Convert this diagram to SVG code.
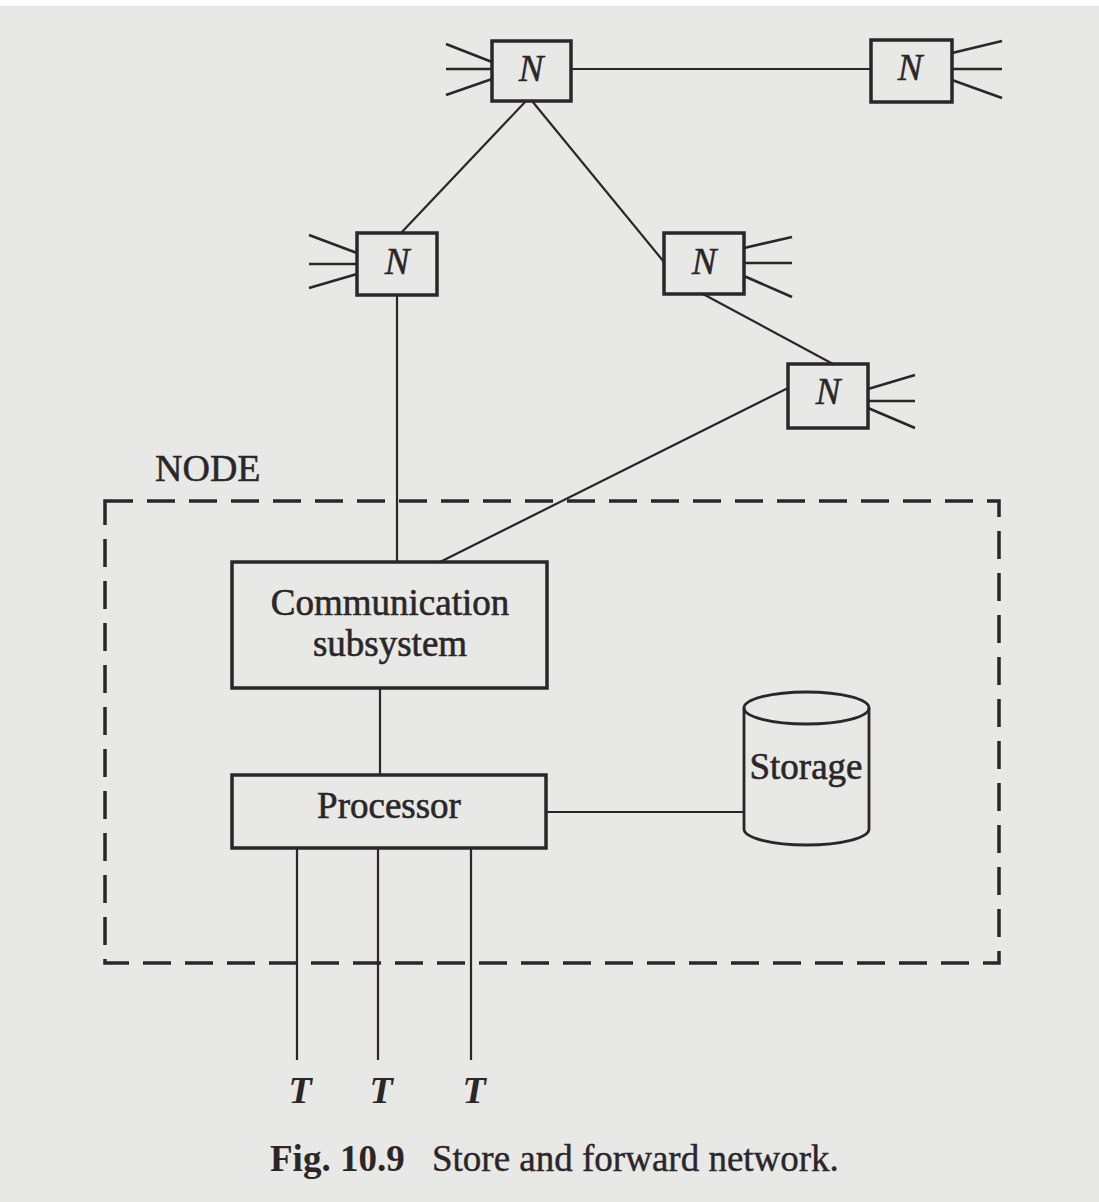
<svg xmlns="http://www.w3.org/2000/svg" width="1099" height="1202" viewBox="0 0 1099 1202">
<style>
.bg{fill:#e8e8e6}
.box{fill:none;stroke:#2b2628;stroke-width:3.5}
.spk{stroke:#2b2628;stroke-width:2.6;fill:none}
.ln{stroke:#2b2628;stroke-width:2.2;fill:none}
.dash{fill:none;stroke:#2b2628;stroke-width:3.5;stroke-dasharray:28 14}
.n{font-family:"Liberation Serif",serif;font-style:italic;font-size:37px;fill:#2b2628;text-anchor:middle;stroke:#2b2628;stroke-width:0.5}
.t{font-family:"Liberation Serif",serif;font-style:italic;font-weight:bold;font-size:38px;fill:#2b2628;text-anchor:middle}
.lbl{font-family:"Liberation Serif",serif;font-size:37px;fill:#2b2628;text-anchor:middle;stroke:#2b2628;stroke-width:0.6}
.cap{font-family:"Liberation Serif",serif;font-size:37px;fill:#2b2628}
</style>
<rect class="bg" x="0" y="0" width="1099" height="1202"/>
<rect x="0" y="0" width="1099" height="6" fill="#ffffff"/>

<g id="connectors">
<line class="ln" x1="571" y1="69" x2="871" y2="69"/>
<line class="ln" x1="526" y1="101" x2="401" y2="233"/>
<line class="ln" x1="532" y1="101" x2="664" y2="262"/>
<line class="ln" x1="397" y1="295" x2="397" y2="562"/>
<line class="ln" x1="703" y1="294" x2="833" y2="364"/>
<line class="ln" x1="788" y1="388" x2="440" y2="562"/>
<line class="ln" x1="380" y1="688" x2="380" y2="775"/>
<line class="ln" x1="546" y1="812" x2="744" y2="812"/>
<line class="ln" x1="297" y1="848" x2="297" y2="1060"/>
<line class="ln" x1="378" y1="848" x2="378" y2="1060"/>
<line class="ln" x1="471" y1="848" x2="471" y2="1060"/>
</g>

<g id="node-boundary">
<rect class="dash" x="105" y="501" width="894" height="462"/>
<text class="cap" x="155" y="481" style="font-size:38px;stroke:#2b2628;stroke-width:0.5">NODE</text>
</g>

<g id="n1">
<rect class="box" x="492" y="41" width="79" height="60"/>
<line class="spk" x1="446" y1="44" x2="492" y2="62"/>
<line class="spk" x1="446" y1="69" x2="492" y2="69"/>
<line class="spk" x1="446" y1="95" x2="492" y2="79"/>
<text class="n" x="531" y="81">N</text>
</g>

<g id="n2">
<rect class="box" x="871" y="40" width="81" height="62"/>
<line class="spk" x1="952" y1="53" x2="1002" y2="41"/>
<line class="spk" x1="952" y1="69" x2="1002" y2="69"/>
<line class="spk" x1="952" y1="80" x2="1002" y2="98"/>
<text class="n" x="910" y="80">N</text>
</g>

<g id="n3">
<rect class="box" x="357" y="233" width="80" height="62"/>
<line class="spk" x1="309" y1="235" x2="357" y2="253"/>
<line class="spk" x1="309" y1="264" x2="357" y2="264"/>
<line class="spk" x1="309" y1="288" x2="357" y2="274"/>
<text class="n" x="397" y="274">N</text>
</g>

<g id="n4">
<rect class="box" x="664" y="233" width="80" height="61"/>
<line class="spk" x1="744" y1="248" x2="792" y2="237"/>
<line class="spk" x1="744" y1="263" x2="792" y2="263"/>
<line class="spk" x1="744" y1="276" x2="792" y2="297"/>
<text class="n" x="704" y="274">N</text>
</g>

<g id="n5">
<rect class="box" x="788" y="364" width="80" height="64"/>
<line class="spk" x1="868" y1="389" x2="915" y2="375"/>
<line class="spk" x1="868" y1="401" x2="915" y2="401"/>
<line class="spk" x1="868" y1="408" x2="915" y2="428"/>
<text class="n" x="828" y="404">N</text>
</g>

<g id="comm">
<rect class="box" x="232" y="562" width="315" height="126"/>
<text class="lbl" x="390" y="615">Communication</text>
<text class="lbl" x="390" y="656">subsystem</text>
</g>

<g id="processor">
<rect class="box" x="232" y="775" width="314" height="73"/>
<text class="lbl" x="389" y="818">Processor</text>
</g>

<g id="storage">
<path class="ln" d="M744,708 L744,829 A62.5,16 0 0 0 869,829 L869,708" style="stroke-width:2.8"/>
<ellipse class="ln" cx="806.5" cy="708" rx="62.5" ry="16" style="stroke-width:2.8"/>
<text class="lbl" x="806" y="779">Storage</text>
</g>

<g id="terminals">
<text class="t" x="300" y="1103">T</text>
<text class="t" x="381" y="1103">T</text>
<text class="t" x="474" y="1103">T</text>
</g>

<g id="caption">
<text class="cap" x="270" y="1171"><tspan font-weight="bold">Fig. 10.9</tspan><tspan x="432" style="stroke:#2b2628;stroke-width:0.4">Store and forward network.</tspan></text>
</g>
</svg>
